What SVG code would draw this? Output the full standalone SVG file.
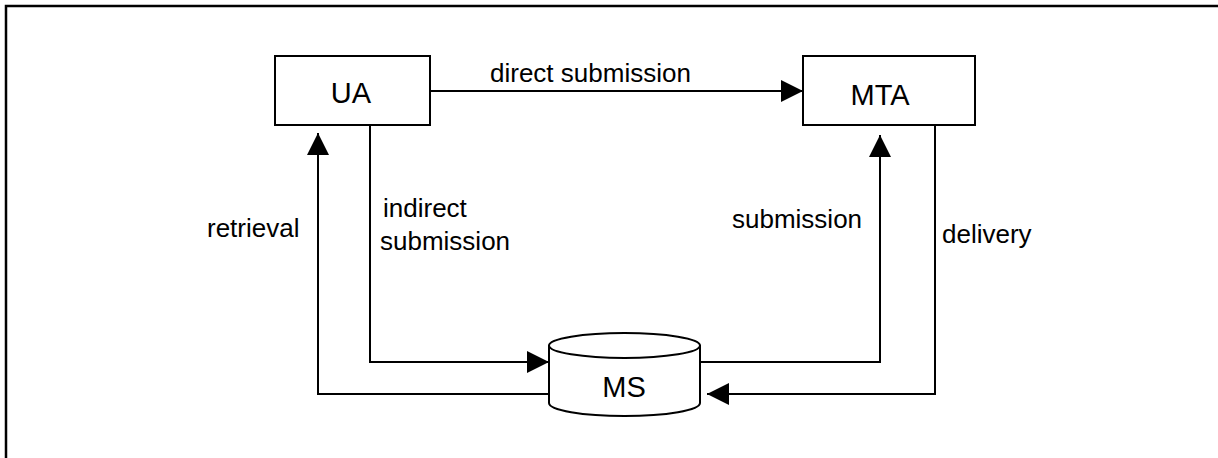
<svg xmlns="http://www.w3.org/2000/svg" width="1218" height="458" viewBox="0 0 1218 458">
  <style>
    .frame { fill: none; stroke: #000; stroke-width: 2.5; }
    .box { fill: #fff; stroke: #000; stroke-width: 2; }
    .wire { fill: none; stroke: #000; stroke-width: 2; }
    .node-label { font-family: "Liberation Sans", Arial, sans-serif; font-size: 29px; fill: #000; text-anchor: middle; }
    .edge-label { font-family: "Liberation Sans", Arial, sans-serif; font-size: 26px; fill: #000; }
  </style>
  <defs>
    <marker id="arrow" markerUnits="userSpaceOnUse" markerWidth="22" markerHeight="22" refX="22" refY="11" orient="auto">
      <path d="M0,0 L22,11 L0,22 Z" fill="#000"/>
    </marker>
  </defs>

  <rect width="1218" height="458" fill="#fff"/>
  <!-- outer border (only top and left edges fall inside the page) -->
  <path class="frame" d="M6,460 V6 H1220"/>

  <g id="connectors">
    <path id="direct-submission" class="wire" d="M430,91 H803" marker-end="url(#arrow)"/>
    <path id="indirect-submission" class="wire" d="M370,125 V362 H549" marker-end="url(#arrow)"/>
    <path id="retrieval" class="wire" d="M549,394 H318 V133" marker-end="url(#arrow)"/>
    <path id="submission" class="wire" d="M700,362 H880 V135" marker-end="url(#arrow)"/>
    <path id="delivery" class="wire" d="M935,125 V394 H707" marker-end="url(#arrow)"/>
  </g>

  <g id="labels">
    <text class="edge-label" x="490" y="82">direct submission</text>
    <text class="edge-label" x="383" y="217">indirect</text>
    <text class="edge-label" x="380" y="250">submission</text>
    <text class="edge-label" x="207" y="237">retrieval</text>
    <text class="edge-label" x="732" y="228">submission</text>
    <text class="edge-label" x="942" y="243">delivery</text>
  </g>

  <g id="UA">
    <rect class="box" x="275" y="56" width="155" height="69"/>
    <text class="node-label" x="351" y="103">UA</text>
  </g>

  <g id="MTA">
    <rect class="box" x="803" y="56" width="172" height="69"/>
    <text class="node-label" x="880" y="105">MTA</text>
  </g>

  <g id="MS">
    <path class="box" d="M549,345.5 V403 A75.5,13 0 0 0 700,403 V345.5 A75.5,12.5 0 0 0 549,345.5 Z"/>
    <path class="wire" d="M549,345.5 A75.5,12.5 0 0 0 700,345.5"/>
    <text class="node-label" x="624" y="397">MS</text>
  </g>
</svg>
